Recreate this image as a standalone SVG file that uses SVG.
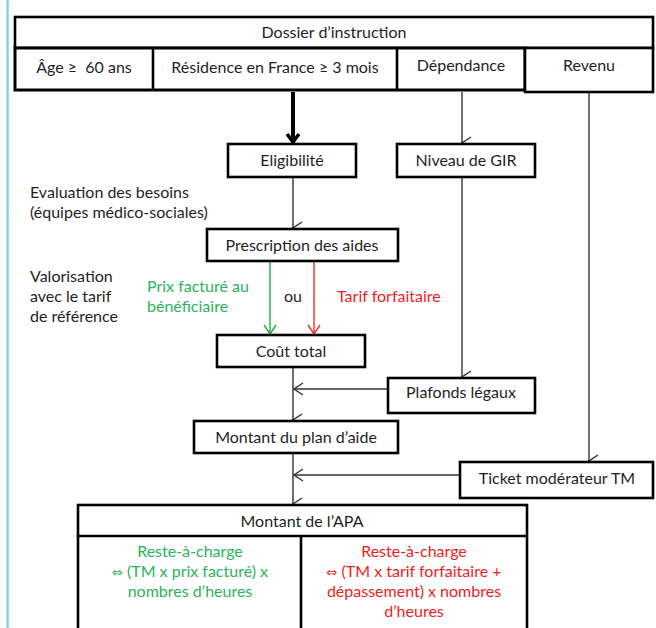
<svg xmlns="http://www.w3.org/2000/svg" width="656" height="628" viewBox="0 0 656 628">
<defs>
<style>
text{font-family:Lato,"Open Sans","Noto Sans",sans-serif;font-size:16px;fill:#1e1e28}
.c{text-anchor:middle}
.g{fill:#2bb35a}
.r{fill:#f21c1c}
.sym{font-family:"DejaVu Sans",sans-serif;font-size:13px}
.box{fill:#fff;stroke:#000;stroke-width:2.6}
.ln{fill:none;stroke:#333;stroke-width:1.4}
</style>
<marker id="a" viewBox="0 0 14 14" refX="7" refY="13" markerWidth="14" markerHeight="14" markerUnits="userSpaceOnUse" orient="auto-start-reverse">
<polyline points="1,4 7,13 13,4" fill="none" stroke="#333" stroke-width="1.4"/>
</marker>
<marker id="ag" viewBox="0 0 14 14" refX="7" refY="13" markerWidth="14" markerHeight="14" markerUnits="userSpaceOnUse">
<polyline points="1,4 7,13 13,4" fill="none" stroke="#22aa44" stroke-width="1.4"/>
</marker>
<marker id="ar" viewBox="0 0 14 14" refX="7" refY="13" markerWidth="14" markerHeight="14" markerUnits="userSpaceOnUse">
<polyline points="1,4 7,13 13,4" fill="none" stroke="#f03030" stroke-width="1.4"/>
</marker>
<marker id="al" viewBox="0 0 14 14" refX="1" refY="7" markerWidth="14" markerHeight="14" markerUnits="userSpaceOnUse">
<polyline points="10,1 1,7 10,13" fill="none" stroke="#333" stroke-width="1.4"/>
</marker>
<marker id="ab" viewBox="0 0 16 16" refX="8" refY="14" markerWidth="16" markerHeight="16" markerUnits="userSpaceOnUse">
<polyline points="2,6 8,14 14,6" fill="none" stroke="#000" stroke-width="3.5"/>
</marker>
</defs>
<rect x="0" y="0" width="656" height="628" fill="#fff"/>
<line x1="7.5" y1="0" x2="7.5" y2="628" stroke="#8ccfe0" stroke-width="2.5"/>

<g id="connectors">
<line class="ln" x1="293" y1="92" x2="293" y2="142" style="stroke:#000;stroke-width:4" marker-end="url(#ab)"/>
<line class="ln" x1="462" y1="92" x2="462" y2="143" marker-end="url(#a)"/>
<line class="ln" x1="589" y1="93" x2="589" y2="461" marker-end="url(#a)"/>
<line class="ln" x1="293" y1="177" x2="293" y2="228" marker-end="url(#a)"/>
<line class="ln" x1="270" y1="261" x2="270" y2="334" style="stroke:#22aa44" marker-end="url(#ag)"/>
<line class="ln" x1="314" y1="261" x2="314" y2="334" style="stroke:#f03030" marker-end="url(#ar)"/>
<line class="ln" x1="462" y1="177" x2="462" y2="377" marker-end="url(#a)"/>
<line class="ln" x1="388" y1="389" x2="294" y2="389" marker-end="url(#al)"/>
<line class="ln" x1="293" y1="367" x2="293" y2="420" marker-end="url(#a)"/>
<line class="ln" x1="460" y1="475" x2="294" y2="475" marker-end="url(#al)"/>
<line class="ln" x1="293" y1="453" x2="293" y2="504" marker-end="url(#a)"/>
</g>

<g id="dossier">
<rect class="box" x="15" y="17" width="638" height="31"/>
<text class="c" x="334" y="38">Dossier d’instruction</text>
</g>
<g id="criteres">
<rect class="box" x="15" y="48" width="510" height="42" style="stroke-width:3"/>
<line x1="153" y1="48" x2="153" y2="90" stroke="#000" stroke-width="2.6"/>
<line x1="397" y1="48" x2="397" y2="90" stroke="#000" stroke-width="2.6"/>
<text class="c" x="84" y="73">Âge ≥&#160; 60 ans</text>
<text class="c" x="275" y="73">Résidence en France ≥ 3 mois</text>
<text class="c" x="461" y="71">Dépendance</text>
</g>
<g id="revenu">
<rect class="box" x="525" y="48" width="128" height="44"/>
<text class="c" x="589" y="71">Revenu</text>
</g>
<g id="eligibilite">
<rect class="box" x="228" y="144" width="128" height="33"/>
<text class="c" x="292" y="166">Eligibilité</text>
</g>
<g id="gir">
<rect class="box" x="397" y="144" width="138" height="33"/>
<text class="c" x="466" y="166">Niveau de GIR</text>
</g>
<g id="evaluation">
<text x="30" y="198">Evaluation des besoins</text>
<text x="30" y="218">(équipes médico-sociales)</text>
</g>
<g id="prescription">
<rect class="box" x="207" y="229" width="191" height="32"/>
<text class="c" x="302" y="251">Prescription des aides</text>
</g>
<g id="valorisation">
<text x="30" y="282">Valorisation</text>
<text x="30" y="302">avec le tarif</text>
<text x="30" y="322">de référence</text>
</g>
<g id="prix">
<text class="g" x="147" y="292">Prix facturé au</text>
<text class="g" x="147" y="312">bénéficiaire</text>
</g>
<g id="ou"><text x="284" y="302">ou</text></g>
<g id="tarif"><text class="r" x="337" y="302">Tarif forfaitaire</text></g>
<g id="cout">
<rect class="box" x="217" y="335" width="148" height="32"/>
<text class="c" x="291" y="357">Coût total</text>
</g>
<g id="plafonds">
<rect class="box" x="388" y="378" width="147" height="35"/>
<text class="c" x="461" y="398">Plafonds légaux</text>
</g>
<g id="plan">
<rect class="box" x="194" y="421" width="204" height="32"/>
<text class="c" x="296" y="443">Montant du plan d’aide</text>
</g>
<g id="ticket">
<rect class="box" x="460" y="462" width="193" height="36"/>
<text class="c" x="557" y="484">Ticket modérateur TM</text>
</g>
<g id="apa">
<rect class="box" x="78" y="505" width="449" height="140"/>
<line x1="78" y1="536" x2="527" y2="536" stroke="#000" stroke-width="2.6"/>
<line x1="301" y1="536" x2="301" y2="640" stroke="#000" stroke-width="2.6"/>
<text class="c" x="302" y="527">Montant de l’APA</text>
<text class="c g" x="190" y="557">Reste-à-charge</text>
<text class="c g" x="190" y="577"><tspan class="sym">⇔</tspan> (TM x prix facturé) x</text>
<text class="c g" x="190" y="597">nombres d’heures</text>
<text class="c r" x="414" y="557">Reste-à-charge</text>
<text class="c r" x="414" y="577"><tspan class="sym">⇔</tspan> (TM x tarif forfaitaire +</text>
<text class="c r" x="414" y="597">dépassement) x nombres</text>
<text class="c r" x="414" y="617">d’heures</text>
</g>
</svg>
